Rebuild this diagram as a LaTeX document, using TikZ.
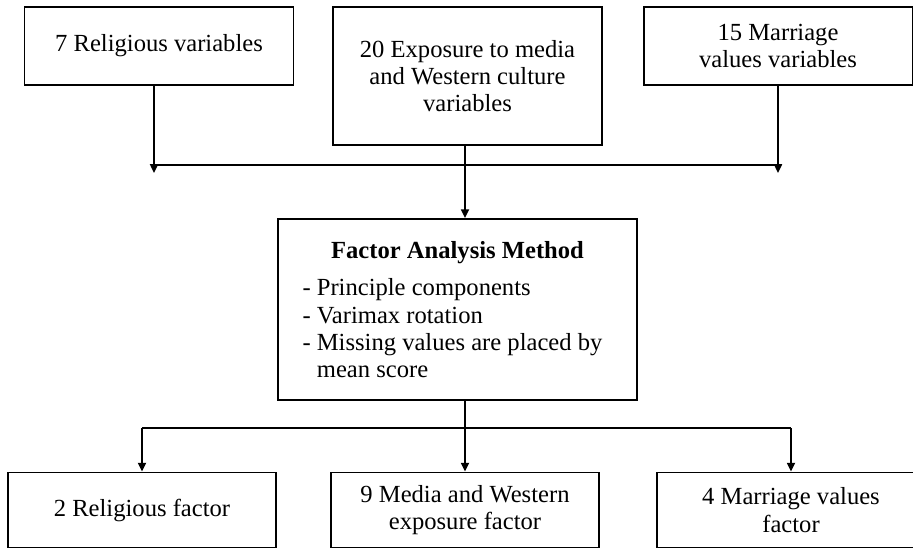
\documentclass[tikz,border=0pt]{standalone}
\usepackage{fontspec}
\setmainfont{Liberation Serif}
\usetikzlibrary{arrows.meta}

\begin{document}
\begin{tikzpicture}[
        x=0.02cm, y=-0.02cm,
        line width=1.1pt,
        >={Triangle[length=5pt,width=4.5pt]},
        varnode/.style={rectangle, draw=black, line width=1.1pt, text=black, align=center, font=\fontsize{14}{15.5}\selectfont, minimum width=5.38cm, minimum height=1.56cm, inner sep=2pt},
        methodnode/.style={varnode, minimum width=7.18cm, minimum height=3.62cm},
        factornode/.style={varnode, minimum width=5.36cm, minimum height=1.5cm},
]
        \useasboundingbox (0,0) rectangle (913,548);
        \node[varnode] (relvar) at (159,46) {7 Religious variables};
        \node[varnode, minimum height=2.76cm] (mediavar) at (467.5,76) {20 Exposure to media\\and Western culture\\variables};
        \node[varnode] (marrvar) at (778,46) {15 Marriage\\values variables};
        \node[methodnode] (method) at (457.5,309.5) {\parbox{6.2cm}{\centering\textbf{Factor Analysis Method}\par\vspace{6pt}\raggedright
                - Principle components\\
                - Varimax rotation\\
                - Missing values are placed by\\
                \phantom{- }mean score}};
        \node[factornode] (relfac) at (142,510) {2 Religious factor};
        \node[factornode] (mediafac) at (465,510) {9 Media and Western\\exposure factor};
        \node[factornode] (marrfac) at (791,510) {4 Marriage values\\factor};

        \coordinate (topjoin) at (465,165);
        \coordinate (botjoin) at (465,428);
        \draw[->] ([xshift=-5*0.02cm]relvar.south) -- ([xshift=-5*0.02cm]relvar.south |- topjoin) -- ++(0,8);
        \draw[->] (marrvar.south) -- (marrvar.south |- topjoin) -- ++(0,8);
        \draw ([xshift=-5*0.02cm]relvar.south |- topjoin) -- (marrvar.south |- topjoin);
        \draw[->] (mediavar.south -| topjoin) -- (method.north -| topjoin);
        \draw (method.south -| botjoin) -- (botjoin);
        \draw (relfac.north |- botjoin) -- (marrfac.north |- botjoin);
        \draw[->] (relfac.north |- botjoin) -- (relfac.north);
        \draw[->] (botjoin) -- (mediafac.north -| botjoin);
        \draw[->] (marrfac.north |- botjoin) -- (marrfac.north);
\end{tikzpicture}
\end{document}
